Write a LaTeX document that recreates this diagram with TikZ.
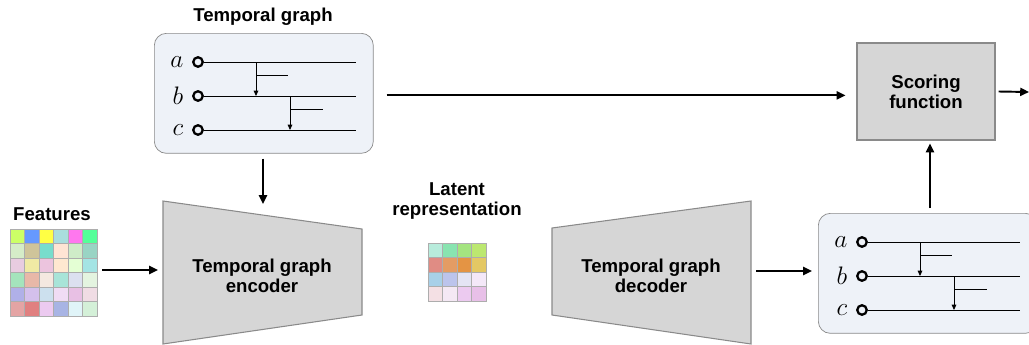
\documentclass[tikz,border=0pt]{standalone}
\usepackage{fontspec}
\setsansfont{Liberation Sans}
\usetikzlibrary{arrows.meta,positioning}
\definecolor{boxfill}{HTML}{EEF2F8}
\definecolor{blockfill}{HTML}{D6D6D6}
\definecolor{edgegray}{HTML}{8A8A8A}
\tikzset{
  lbl/.style={font=\sffamily\bfseries\fontsize{10.6}{11.5}\selectfont, align=center, inner sep=0pt},
  graphbox/.style={draw=edgegray, fill=boxfill, rounded corners=0.24cm, minimum width=4.38cm, minimum height=2.4cm},
  block/.style={draw=edgegray, fill=blockfill, line width=0.6pt},
  arr/.style={-{Triangle[length=5pt,width=4.6pt]}, line width=1.1pt},
  tarr/.style={-{Triangle[length=3pt,width=2.6pt]}, line width=0.5pt},
  vtx/.style={circle, draw, line width=1.3pt, minimum size=0.19cm, inner sep=0pt},
  vlbl/.style={font=\fontsize{13.5}{13.5}\selectfont, inner sep=0pt},
}
% temporal graph box: #1 name, (#2,#3) top left corner
\newcommand{\tgraph}[3]{
  \begin{scope}[shift={(#2,#3)}]
    \node[graphbox, anchor=north west] (#1) at (0,0) {};
    \node[vtx] (#1a) at (44,29) {};
    \node[vtx] (#1b) at (44,63) {};
    \node[vtx] (#1c) at (44,97) {};
    \node[vlbl, left=0.17cm of #1a] {$a$};
    \node[vlbl, left=0.17cm of #1b] {$b$};
    \node[vlbl, left=0.17cm of #1c] {$c$};
    \coordinate (#1ae) at (202,29);
    \coordinate (#1be) at (202,63);
    \coordinate (#1ce) at (202,97);
    \draw[line width=0.5pt] (#1a) -- (#1ae);
    \draw[line width=0.5pt] (#1b) -- (#1be);
    \draw[line width=0.5pt] (#1c) -- (#1ce);
    % edges a->b and b->c
    \coordinate (#1p) at (102,29);
    \coordinate (#1q) at (136,63);
    \draw[tarr] (#1p) -- (#1p |- #1b);
    \draw[line width=0.5pt] ([yshift=-0.26cm]#1p) -- ++(32,0);
    \draw[tarr] (#1q) -- (#1q |- #1c);
    \draw[line width=0.5pt] ([yshift=-0.26cm]#1q) -- ++(33,0);
  \end{scope}
}

\begin{document}
\begin{tikzpicture}[x=0.02cm, y=-0.02cm]
  \useasboundingbox (0,0) rectangle (1029,345);

  \node[lbl] (tgtitle) at (263,17) {Temporal graph};
  \tgraph{tg}{154}{33}

  \node[lbl] (feattitle) at (52,214) {Features};
  \foreach \c [count=\i from 0] in {CCFF66,6699FF,FFFF44,AADDDD,FF77EE,55FF99,
      D5ECC8,CFC49A,77DDCC,FFE4D4,CFECC8,99D4C4,
      E8CCE0,F0EAA4,ECC4DE,FFE8D0,E4FFD4,A4E4E4,
      A4E4BC,E8B8A8,F4E8E0,A8E4D8,DCE0F0,E4F4E0,
      B0B0E8,D4C0EC,CCE0EE,F0DCF4,E8C0E4,F0DCE4,
      E4A4A4,E08080,ECCAF0,A8B4E4,E0F4F8,D4F0D8} {
    \pgfmathtruncatemacro{\row}{int(\i/6)}
    \pgfmathtruncatemacro{\col}{mod(\i,6)}
    \definecolor{cell}{HTML}{\c}
    \draw[fill=cell, draw=edgegray!70, line width=0.3pt]
      (10+14.5*\col,229+14.5*\row) rectangle ++(14.5,14.5);
  }

  % encoder
  \draw[block] (163,201) -- (362,229) -- (362,315) -- (163,344) -- cycle;
  \node[lbl] (enc) at (262,276) {Temporal graph\\encoder};

  \node[lbl] (lattitle) at (457,201) {Latent\\representation};
  \foreach \c [count=\i from 0] in {B8ECDC,88E4B0,A4E480,BCE870,
      E08C84,E49C64,E49444,E4C864,
      A8D0E8,BCC4EC,E4E4F4,F4E8F8,
      F4E0E4,F4E8F4,ECCAF0,E8C0E8} {
    \pgfmathtruncatemacro{\row}{int(\i/4)}
    \pgfmathtruncatemacro{\col}{mod(\i,4)}
    \definecolor{cell}{HTML}{\c}
    \draw[fill=cell, draw=edgegray!70, line width=0.3pt]
      (428+14.5*\col,243+14.5*\row) rectangle ++(14.5,14.5);
  }

  % decoder
  \draw[block] (552,228) -- (751,201) -- (751,344) -- (552,315) -- cycle;
  \node[lbl] (dec) at (651,276) {Temporal graph\\decoder};

  \tgraph{out}{818}{213}

  \node[block, lbl, minimum width=2.76cm, minimum height=1.94cm] (sf) at (926,91.5) {Scoring\\function};

  \coordinate (featR) at (102,270);
  \coordinate (encL) at (158,270);
  \coordinate (encT) at (263,204);
  \coordinate (decR) at (756,271);
  \coordinate (outL) at (812,271);
  \coordinate (exit) at (1029,92);

  \draw[arr] ([yshift=-0.1cm]tg.south -| encT) -- (encT);
  \draw[arr] (featR) -- (encL);
  \draw[arr] (decR) -- (outL);
  \draw[arr] ([xshift=0.26cm,yshift=-0.04cm]tg.east) -- ([xshift=-0.22cm,yshift=-0.04cm]tg.east -| sf.west);
  \draw[arr] ([yshift=0.1cm]out.north -| 930,0) -- ([yshift=-0.06cm]sf.south -| 930,0);
  \draw[arr] ([xshift=0.06cm]sf.east) -- (exit);
\end{tikzpicture}
\end{document}
